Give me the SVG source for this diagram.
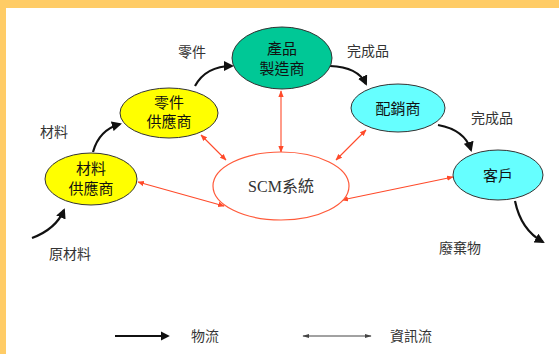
<svg xmlns="http://www.w3.org/2000/svg" width="559" height="354" viewBox="0 0 559 354">
<defs>
<marker id="bh" viewBox="0 0 10 10" refX="8" refY="5" markerWidth="4.6" markerHeight="4.6" orient="auto-start-reverse"><path d="M0,0 L10,5 L0,10 Z" fill="#111"/></marker>
<marker id="rh" viewBox="0 0 10 10" refX="9" refY="5" markerWidth="6" markerHeight="6" orient="auto-start-reverse"><path d="M0,1 L10,5 L0,9 Z" fill="#ff4a2a"/></marker>
<marker id="gh" viewBox="0 0 10 10" refX="9" refY="5" markerWidth="7" markerHeight="7" orient="auto-start-reverse"><path d="M0,2 L10,5 L0,8 Z" fill="#444"/></marker>
</defs>
<style>
.t{font-family:"Noto Sans CJK TC","Noto Sans",sans-serif;font-size:14px;fill:#333;text-anchor:middle}
.n{font-family:"Noto Sans CJK TC","Noto Sans",sans-serif;font-size:15px;fill:#111;text-anchor:middle}
.flow{fill:none;stroke:#111;stroke-width:2.2;marker-end:url(#bh)}
.info{fill:none;stroke:#ff4a2a;stroke-width:1.1;marker-start:url(#rh);marker-end:url(#rh)}
.e{stroke:#333;stroke-width:1}
</style>
<rect width="559" height="354" fill="#ffcc66"/>
<rect x="6" y="8" width="553" height="346" fill="#fff"/>
<g id="connectors">
<path class="flow" d="M32,238 Q56,229 64,210"/>
<path class="flow" d="M93,152 Q99,130 120,124"/>
<path class="flow" d="M195,86 Q206,66 232,66"/>
<path class="flow" d="M330,66 Q358,67 366,84"/>
<path class="flow" d="M438,125 Q465,130 471,150"/>
<path class="flow" d="M515,201 Q521,230 543,242"/>
<line class="info" x1="281" y1="91" x2="281" y2="152"/>
<line class="info" x1="201" y1="135" x2="226" y2="160"/>
<line class="info" x1="366" y1="130" x2="336" y2="160"/>
<line class="info" x1="138" y1="182" x2="224" y2="206"/>
<line class="info" x1="453" y1="177" x2="342" y2="200"/>
</g>
<g id="n_maker"><ellipse class="e" cx="282" cy="58" rx="50" ry="31" fill="#00c896"/><text class="n" x="282" y="54">產品</text><text class="n" x="282" y="74">製造商</text></g>
<g id="n_parts"><ellipse class="e" cx="169" cy="113" rx="49" ry="25" fill="#ffff00"/><text class="n" x="169" y="108">零件</text><text class="n" x="169" y="127">供應商</text></g>
<g id="n_material"><ellipse class="e" cx="91" cy="179" rx="46" ry="26" fill="#ffff00"/><text class="n" x="91" y="174">材料</text><text class="n" x="91" y="194">供應商</text></g>
<g id="n_dist"><ellipse class="e" cx="398" cy="108" rx="47" ry="24" fill="#66ffff"/><text class="n" x="398" y="114">配銷商</text></g>
<g id="n_customer"><ellipse class="e" cx="498" cy="175" rx="45" ry="25" fill="#66ffff"/><text class="n" x="498" y="181">客戶</text></g>
<g id="n_scm"><ellipse cx="281" cy="186" rx="68" ry="34" fill="#fff" stroke="#ff5a3a" stroke-width="1.2"/><text x="281" y="192" style="font-family:'Liberation Serif','Noto Sans CJK TC',serif;font-size:16px;fill:#333;text-anchor:middle">SCM系統</text></g>
<g id="labels">
<text class="t" x="192" y="57">零件</text>
<text class="t" x="368" y="56">完成品</text>
<text class="t" x="492" y="123">完成品</text>
<text class="t" x="54" y="137">材料</text>
<text class="t" x="70" y="259">原材料</text>
<text class="t" x="460" y="253">廢棄物</text>
</g>
<g id="legend">
<line x1="115" y1="336" x2="168" y2="336" stroke="#111" stroke-width="2" style="marker-end:url(#bh)"/>
<text class="t" x="205" y="341">物流</text>
<line x1="303" y1="336" x2="371" y2="336" stroke="#444" stroke-width="1" style="marker-start:url(#gh);marker-end:url(#gh)"/>
<text class="t" x="411" y="341">資訊流</text>
</g>
</svg>
